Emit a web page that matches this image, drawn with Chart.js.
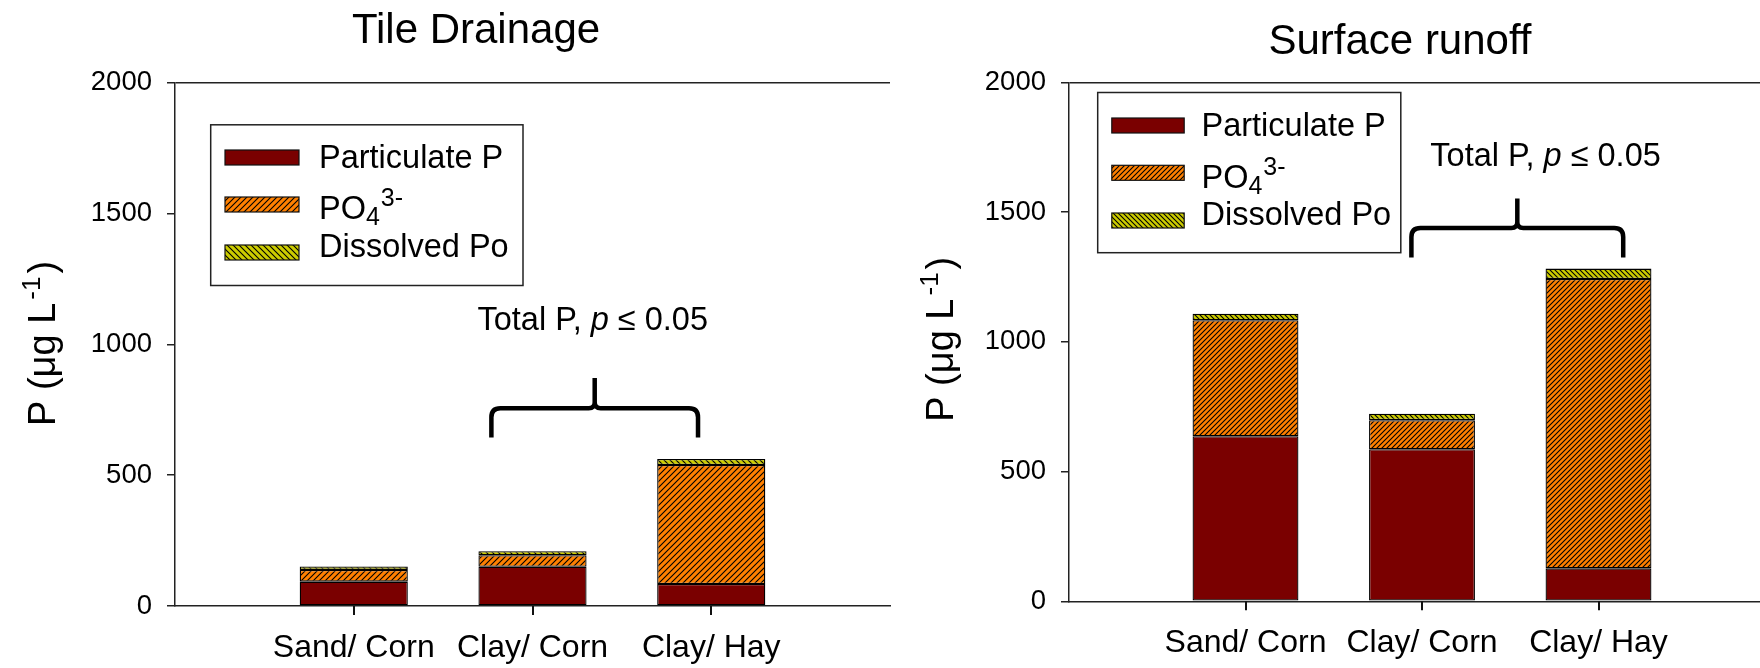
<!DOCTYPE html>
<html><head><meta charset="utf-8">
<script src="https://cdn.jsdelivr.net/npm/chart.js@4.4.0/dist/chart.umd.min.js"></script>
<style>
html,body{margin:0;padding:0;background:#fff;overflow:hidden;width:1760px;height:668px;position:relative;}
.wrap{position:absolute;top:0;height:668px;}
#w1{left:0;width:905px;}
#w2{left:905px;width:895px;}
canvas{display:block;}
</style></head><body>
<div class="wrap" id="w1"><canvas id="c1" width="905" height="668"></canvas></div>
<div class="wrap" id="w2"><canvas id="c2" width="895" height="668"></canvas></div>
<script>
// ---------- data ----------
const categories = ['Sand/ Corn', 'Clay/ Corn', 'Clay/ Hay'];
const seriesNames = ['Particulate P', 'PO4 3-', 'Dissolved Po'];
const tileParticulate = [93, 150, 84];
const tilePO4 = [45, 44, 455];
const tileDissolvedPo = [13, 15, 23];
const runoffParticulate = [636, 586, 127];
const runoffPO4 = [447, 112, 1115];
const runoffDissolvedPo = [25, 25, 40];
const yTicks = [0, 500, 1000, 1500, 2000];
const chartTitles = ['Tile Drainage', 'Surface runoff'];
const yAxisTitle = ['P (\u03bcg L', '-1', ')'];
const legendParts = [
  [['Particulate P', 'n']],
  [['PO', 'n'], ['4', 'sub'], ['3-', 'sup']],
  [['Dissolved Po', 'n']]
];
const noteParts = [['Total P, ', 'n'], ['p', 'i'], [' \u2264 0.05', 'n']];

const FONT = '"Liberation Sans", Arial, sans-serif';

function hatch(bg, dir, size) {
  const c = document.createElement('canvas');
  c.width = size; c.height = size;
  const g = c.getContext('2d');
  g.fillStyle = bg; g.fillRect(0, 0, size, size);
  g.strokeStyle = '#000'; g.lineWidth = 1.1;
  g.beginPath();
  if (dir === '/') {
    for (let k = -1; k <= 1; k++) { g.moveTo(k * size - 1, size + 1); g.lineTo(k * size + size + 1, -1); }
  } else {
    for (let k = -1; k <= 1; k++) { g.moveTo(k * size - 1, -1); g.lineTo(k * size + size + 1, size + 1); }
  }
  g.stroke();
  return g.createPattern(c, 'repeat');
}

const pad = a => [null, ...a, null];

const extras = {
  id: 'extras',
  afterDraw(chart, args, o) {
    const ctx = chart.ctx;
    const xs = chart.scales.x, ys = chart.scales.y;
    ctx.save();
    ctx.fillStyle = '#000';
    // category tick marks below the x axis
    ctx.strokeStyle = '#111'; ctx.lineWidth = 2;
    ctx.beginPath();
    categories.forEach((c, i) => {
      const x = Math.round(xs.getPixelForValue(i + 1));
      ctx.moveTo(x, chart.chartArea.bottom); ctx.lineTo(x, chart.chartArea.bottom + 9);
    });
    ctx.stroke();
    // title
    ctx.font = `42px ${FONT}`;
    ctx.textAlign = 'center'; ctx.textBaseline = 'alphabetic';
    ctx.fillText(o.title, o.titleX, o.titleY);
    // y title (rotated)
    ctx.save();
    ctx.translate(o.yTitleX, o.yTitleY);
    ctx.rotate(-Math.PI / 2);
    ctx.textAlign = 'left';
    let px = 0;
    ctx.font = `38px ${FONT}`;
    ctx.fillText(yAxisTitle[0], px, 0); px += ctx.measureText(yAxisTitle[0]).width + 3;
    ctx.font = `26px ${FONT}`;
    ctx.fillText(yAxisTitle[1], px, -15); px += ctx.measureText(yAxisTitle[1]).width + 3;
    ctx.font = `38px ${FONT}`;
    ctx.fillText(yAxisTitle[2], px, 0);
    ctx.restore();
    // legend
    const L = o.legend;
    ctx.fillStyle = '#fff';
    ctx.fillRect(L.x, L.y, L.w, L.h);
    ctx.strokeStyle = '#222'; ctx.lineWidth = 1.5;
    ctx.strokeRect(L.x, L.y, L.w, L.h);
    chart.data.datasets.forEach((ds, i) => {
      ctx.fillStyle = ds.backgroundColor;
      ctx.fillRect(L.sx, L.rows[i], L.sw, L.sh);
      ctx.strokeStyle = '#111'; ctx.lineWidth = 1.2;
      ctx.strokeRect(L.sx, L.rows[i], L.sw, L.sh);
      ctx.fillStyle = '#000';
      ctx.textAlign = 'left';
      let tx = L.tx;
      legendParts[i].forEach(([t, k]) => {
        let size = 32.5, dy = 0;
        if (k === 'sub') { size = 25; dy = 6; }
        if (k === 'sup') { size = 25; dy = -13; }
        ctx.font = `${size}px ${FONT}`;
        ctx.fillText(t, tx, L.base[i] + dy);
        tx += ctx.measureText(t).width + (k === 'n' ? 0 : 1);
      });
    });
    // annotation text
    const A = o.note;
    let total = 0;
    noteParts.forEach(([t, k]) => { ctx.font = `${k === 'i' ? 'italic ' : ''}32.5px ${FONT}`; total += ctx.measureText(t).width; });
    let nx = xs.getPixelForValue(A.tx) - total / 2;
    const ny = ys.getPixelForValue(A.ty);
    ctx.fillStyle = '#000';
    noteParts.forEach(([t, k]) => {
      ctx.font = `${k === 'i' ? 'italic ' : ''}32.5px ${FONT}`;
      ctx.fillText(t, nx, ny); nx += ctx.measureText(t).width;
    });
    // brace
    const x0 = xs.getPixelForValue(A.x0), x1 = xs.getPixelForValue(A.x1), xc = xs.getPixelForValue(A.xc);
    const yb = ys.getPixelForValue(A.bar), ye = ys.getPixelForValue(A.end), yt = ys.getPixelForValue(A.spike);
    const r = 9, r2 = 6;
    ctx.strokeStyle = '#000'; ctx.lineWidth = 4.5; ctx.lineCap = 'butt'; ctx.lineJoin = 'round';
    ctx.beginPath();
    ctx.moveTo(x0, ye); ctx.lineTo(x0, yb + r); ctx.quadraticCurveTo(x0, yb, x0 + r, yb);
    ctx.lineTo(xc - r2, yb); ctx.quadraticCurveTo(xc, yb, xc, yb - r2); ctx.lineTo(xc, yt);
    ctx.moveTo(xc, yb - r2); ctx.quadraticCurveTo(xc, yb, xc + r2, yb);
    ctx.lineTo(x1 - r, yb); ctx.quadraticCurveTo(x1, yb, x1, yb + r); ctx.lineTo(x1, ye);
    ctx.stroke();
    ctx.restore();
  }
};

function makeChart(id, vals, cfg) {
  const colors = ['#7a0000', hatch('#ff8000', '/', cfg.hs), hatch('#cccc00', '\\', cfg.hs)];
  return new Chart(document.getElementById(id), {
    type: 'bar',
    data: {
      labels: ['', ...categories, ''],
      datasets: vals.map((v, i) => ({
        label: seriesNames[i], data: pad(v), backgroundColor: colors[i],
        borderColor: '#000', borderWidth: 1.3, borderSkipped: false,
        barPercentage: cfg.barPct, categoryPercentage: 1
      }))
    },
    options: {
      responsive: false, animation: false, events: [],
      layout: { padding: { left: 0, right: cfg.padRight, top: cfg.padTop, bottom: 0 } },
      plugins: {
        legend: { display: false }, tooltip: { enabled: false }, title: { display: false },
        extras: cfg.extras
      },
      scales: {
        x: {
          stacked: true, offset: false,
          afterFit: s => { s.height = cfg.xHeight; },
          border: { display: true, color: '#222', width: 1.5 },
          grid: { offset: false, display: true, drawOnChartArea: false, drawTicks: true, tickLength: 8,
                  tickWidth: 1.5, tickColor: 'rgba(0,0,0,0)' },
          ticks: { color: '#000', font: { family: FONT, size: 32 }, padding: 15, maxRotation: 0, autoSkip: false }
        },
        y: {
          stacked: true, min: 0, max: 2000,
          afterBuildTicks: s => { s.ticks = yTicks.map(v => ({ value: v })); },
          afterFit: s => { s.width = cfg.yWidth; },
          border: { display: true, color: '#222', width: 1.5 },
          grid: { drawOnChartArea: true, lineWidth: 1.5, tickLength: 8, tickWidth: 1.5, tickColor: '#222',
                  color: c => (c.tick && c.tick.value === 2000) ? '#222' : 'rgba(0,0,0,0)' },
          ticks: { color: '#000', font: { family: FONT, size: 27.5 }, padding: 15, callback: v => String(v) }
        }
      }
    },
    plugins: [extras]
  });
}

makeChart('c1', [tileParticulate, tilePO4, tileDissolvedPo], {
  hs: 6, barPct: 0.605, yWidth: 175, padRight: 3.3, padTop: 82.7, xHeight: 62,
  extras: {
    title: chartTitles[0], titleX: 476, titleY: 42.6,
    yTitleX: 54.5, yTitleY: 426,
    legend: { x: 210.7, y: 124.8, w: 312.3, h: 160.7, sx: 225, sw: 74, sh: 15,
              rows: [150, 197, 245], tx: 319, base: [168.3, 219.3, 257.3] },
    note: { tx: 2.337, ty: 1055, x0: 1.770, x1: 2.926, xc: 2.348, bar: 755.5, end: 643.6, spike: 871 }
  }
});

makeChart('c2', [runoffParticulate, runoffPO4, runoffDissolvedPo], {
  hs: 5, barPct: 0.60, yWidth: 164, padRight: 25, padTop: 82.3, xHeight: 66.7,
  extras: {
    title: chartTitles[1], titleX: 495, titleY: 54,
    yTitleX: 48, yTitleY: 421.8,
    legend: { x: 192.7, y: 92.5, w: 303.1, h: 160.2, sx: 206.8, sw: 72.4, sh: 15,
              rows: [118, 165.3, 213], tx: 296.5, base: [136.3, 187.6, 225.3] },
    note: { tx: 2.70, ty: 1677, x0: 1.94, x1: 3.14, xc: 2.54, bar: 1438.5, end: 1325, spike: 1551.8 }
  }
});
</script>
</body></html>
